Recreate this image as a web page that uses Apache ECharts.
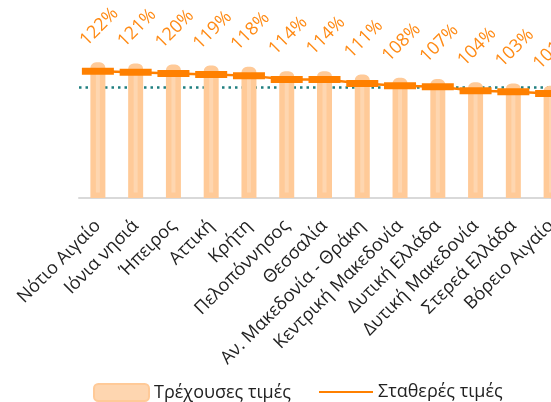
<!DOCTYPE html>
<html>
<head>
<meta charset="utf-8">
<script src="https://cdn.jsdelivr.net/npm/echarts@6/dist/echarts.min.js"></script>
<style>
  html, body { margin: 0; padding: 0; background: #fff; }
  #chart { width: 551px; height: 402px; }
</style>
</head>
<body>
<div id="chart"></div>
<script>
  // περιφέρειες
  const regions = ['Νότιο Αιγαίο', 'Ιόνια νησιά', 'Ήπειρος', 'Αττική', 'Κρήτη', 'Πελοπόννησος', 'Θεσσαλία',
    'Αν. Μακεδονία - Θράκη', 'Κεντρική Μακεδονία', 'Δυτική Ελλάδα', 'Δυτική Μακεδονία', 'Στερεά Ελλάδα', 'Βόρειο Αιγαίο'];
  const currentPrices = [122, 121, 120, 119, 118, 114, 114, 111, 108, 107, 104, 103, 101];
  const constantPrices = [114, 113, 112, 111, 110, 106.5, 106.5, 103, 101, 100, 96.5, 95.5, 94];
  const refLevel = 100;

  const font = 'Open Sans';
  const chart = echarts.init(document.getElementById('chart'));

  chart.setOption({
    animation: false,
    textStyle: { fontFamily: font },
    // the plot runs past the right edge of the picture (last bar is cut)
    grid: { left: 79, top: 20, width: 491, height: 178, outerBoundsMode: 'none' },
    legend: [
      {
        left: 88, top: 378, itemWidth: 55, itemHeight: 17,
        textStyle: { fontFamily: font, fontSize: 18, color: '#222' },
        data: ['Τρέχουσες τιμές']
      },
      {
        left: 313, top: 378, itemWidth: 54, itemHeight: 17,
        textStyle: { fontFamily: font, fontSize: 18, color: '#222' },
        data: [{ name: 'Σταθερές τιμές', itemStyle: { opacity: 0 } }]
      }
    ],
    xAxis: {
      type: 'category',
      data: regions,
      axisLine: { lineStyle: { color: '#d9d9d9', width: 2 } },
      axisTick: { show: false },
      axisLabel: { interval: 0, rotate: 45, margin: 25, fontSize: 18, color: '#222', fontFamily: font }
    },
    yAxis: {
      type: 'value', min: 0, max: 160, show: false,
      splitLine: { show: false }
    },
    series: [
      {
        name: 'Τρέχουσες τιμές',
        type: 'bar',
        data: currentPrices,
        barWidth: 15,
        itemStyle: { color: '#fed6b0', borderColor: '#ffca98', borderWidth: 5.5, borderRadius: [3, 3, 0, 0] },
        label: {
          show: true, position: 'top', distance: 34, offset: [2, 0], rotate: 45,
          align: 'center', verticalAlign: 'middle',
          formatter: '{c}%', fontSize: 18, color: '#ff8a14', fontFamily: font
        },
        markLine: {
          silent: true, z: 1, symbol: 'none',
          label: { show: false },
          lineStyle: { color: '#1f7f80', width: 2.5, type: [2.5, 4] },
          data: [{ yAxis: refLevel }]
        }
      },
      {
        name: 'Σταθερές τιμές',
        type: 'line',
        data: constantPrices,
        z: 4,
        symbol: 'rect',
        symbolSize: [32, 7],
        itemStyle: { color: '#ff8000' },
        lineStyle: { color: '#ff8000', width: 2.5 }
      }
    ]
  });
</script>
</body>
</html>
